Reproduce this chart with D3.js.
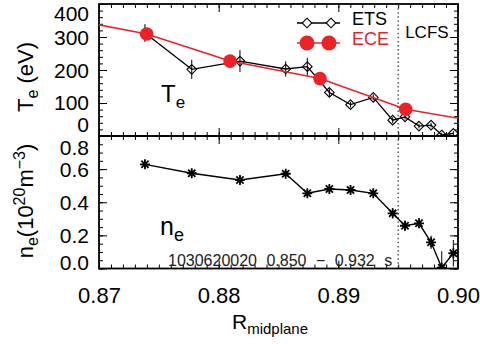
<!DOCTYPE html>
<html><head><meta charset="utf-8">
<script src="https://cdn.jsdelivr.net/npm/d3@7"></script>
<style>body{margin:0;background:#fff} svg text{font-family:"Liberation Sans",Arial,sans-serif}</style>
</head><body><svg id="c" width="480" height="344"></svg>
<script>
// ---- data ----
const R_ets  = [0.87384,0.87775,0.88178,0.88560,0.88741,0.88925,0.89102,0.89292,0.89454,0.89557,0.89674,0.89775,0.89864,0.89961];
const Te_ets = [312,202,227,203,210,132,95,117,48,58,30,33,3,8];
const Te_err = [27,29,33,23,27,12,9,9,9,8,7,7,7,7];
const ne_ets = [0.629,0.575,0.534,0.572,0.454,0.480,0.474,0.454,0.333,0.258,0.273,0.158,0.005,0.092];
const ne_err = [0.02,0.02,0.02,0.02,0.02,0.02,0.02,0.02,0.03,0.03,0.03,0.04,0.10,0.08];
const R_ece  = [0.8667,0.87399,0.88095,0.88847,0.89563,0.9029];
const Te_ece = [360,309,227,174,81,36];
const R_lcfs = 0.895;
const xTicks  = [0.87,0.88,0.89,0.90];
const teTicks = [0,100,200,300,400];
const neTicks = [0.0,0.2,0.4,0.6,0.8];
const shotLabel = "1030620020 0.850 \u2212 0.932 s";

// ---- scales ----
const svg = d3.select("#c");
svg.append("rect").attr("width",480).attr("height",344).attr("fill","#fff");
const x  = d3.scaleLinear().domain([0.87,0.90]).range([99,458]);
const yT = d3.scaleLinear().domain([0,400]).range([136,4]);
const yN = d3.scaleLinear().domain([0,0.8]).range([268.5,136]);
const RED = "#ec2227";
const FONT = '"Liberation Sans",Arial,sans-serif';

const defs = svg.append("defs");
function clip(id, y){
  defs.append("clipPath").attr("id",id).append("rect")
    .attr("x",x.range()[0]).attr("y",y.range()[1])
    .attr("width",x.range()[1]-x.range()[0]).attr("height",y.range()[0]-y.range()[1]);
}
clip("cT",yT); clip("cN",yN);

const xMinor = d3.range(0,31).map(i=>+(0.87+i*0.001).toFixed(3));
function panel(y, major, minor){
  const g = svg.append("g");
  const [yb,yt] = y.range(), [xl,xr] = x.range();
  const add = (ax, tr) => g.append("g").attr("transform",tr).call(ax)
      .call(s=>{s.select(".domain").remove(); s.selectAll("line").attr("stroke","#000").attr("stroke-width",1);});
  add(d3.axisBottom(x).tickValues(xMinor).tickSize(-4).tickFormat(""), `translate(0,${yb})`);
  add(d3.axisBottom(x).tickValues(xTicks).tickSize(-8).tickFormat(""), `translate(0,${yb})`);
  add(d3.axisTop(x).tickValues(xMinor).tickSize(-4).tickFormat(""), `translate(0,${yt})`);
  add(d3.axisTop(x).tickValues(xTicks).tickSize(-8).tickFormat(""), `translate(0,${yt})`);
  add(d3.axisLeft(y).tickValues(minor).tickSize(-4).tickFormat(""), `translate(${xl},0)`);
  add(d3.axisLeft(y).tickValues(major).tickSize(-8).tickFormat(""), `translate(${xl},0)`);
  add(d3.axisRight(y).tickValues(minor).tickSize(-4).tickFormat(""), `translate(${xr},0)`);
  add(d3.axisRight(y).tickValues(major).tickSize(-8).tickFormat(""), `translate(${xr},0)`);
  g.append("rect").attr("x",xl).attr("y",yt).attr("width",xr-xl).attr("height",yb-yt)
    .attr("fill","none").attr("stroke","#000").attr("stroke-width",1.8);
}
panel(yT, teTicks, d3.range(0,401,20));
panel(yN, neTicks, d3.range(0,17).map(i=>+(i*0.05).toFixed(2)));

// y tick labels (dy = baseline offset from tick, px)
function yLabels(y, vals, fmt, off){
  svg.append("g").attr("transform",`translate(${x.range()[0]},0)`)
    .call(d3.axisLeft(y).tickValues(vals).tickSize(0).tickPadding(10).tickFormat(fmt))
    .call(s=>{s.select(".domain").remove();
      s.attr("font-family",FONT).attr("font-size",21);
      s.selectAll("text").attr("fill","#000").attr("dy",d=>off(d)+"px");});
}
yLabels(yT, teTicks, d3.format("d"), d=> d===400?16.5: d===100?6.1: d===0?-4.4:7.5);
yLabels(yN, neTicks, d3.format(".1f"), d=> d===0.8?18.1: d===0?1:7.5);

// x tick labels
svg.append("g").attr("transform",`translate(0,${yN.range()[0]})`)
  .call(d3.axisBottom(x).tickValues(xTicks).tickSize(0).tickPadding(19).tickFormat(d3.format(".2f")))
  .call(s=>{s.select(".domain").remove(); s.attr("font-family",FONT).attr("font-size",22); s.selectAll("text").attr("fill","#000");});

// LCFS line
svg.append("line").attr("x1",x(R_lcfs)).attr("x2",x(R_lcfs)).attr("y1",yT.range()[1]).attr("y2",yN.range()[0])
  .attr("stroke","#333").attr("stroke-width",1.2).attr("stroke-dasharray","1.5,2.6");
svg.append("text").attr("x",x(R_lcfs)+7).attr("y",38).attr("font-size",17).text("LCFS");

// --- Te panel ---
const gT = svg.append("g").attr("clip-path","url(#cT)");
const ets = R_ets.map((r,i)=>({r,t:Te_ets[i],e:Te_err[i],n:ne_ets[i],ne:ne_err[i]}));
gT.selectAll(".eb").data(ets).join("line")
  .attr("x1",d=>x(d.r)).attr("x2",d=>x(d.r)).attr("y1",d=>yT(d.t-d.e)).attr("y2",d=>yT(d.t+d.e))
  .attr("stroke","#000").attr("stroke-width",1);
gT.append("path").datum(ets).attr("fill","none").attr("stroke","#000").attr("stroke-width",1.3)
  .attr("d",d3.line().x(d=>x(d.r)).y(d=>yT(d.t)));
const diamond = "M0,-4.8L4.8,0L0,4.8L-4.8,0Z";
gT.selectAll(".dm").data(ets).join("path").attr("d",diamond)
  .attr("transform",d=>`translate(${x(d.r)},${yT(d.t)})`)
  .attr("fill","none").attr("stroke","#000").attr("stroke-width",1.1);
const ece = R_ece.map((r,i)=>({r,t:Te_ece[i]}));
gT.append("path").datum(ece).attr("fill","none").attr("stroke",RED).attr("stroke-width",1.6)
  .attr("d",d3.line().x(d=>x(d.r)).y(d=>yT(d.t)));
gT.selectAll(".ci").data(ece).join("circle").attr("cx",d=>x(d.r)).attr("cy",d=>yT(d.t)).attr("r",6.8).attr("fill",RED);

// legend
const lg = svg.append("g");
lg.append("line").attr("x1",297).attr("x2",340).attr("y1",23).attr("y2",23).attr("stroke","#000").attr("stroke-width",1.3);
[307,331].forEach(cx=>lg.append("path").attr("d",diamond).attr("transform",`translate(${cx},23)`).attr("fill","#fff").attr("stroke","#000").attr("stroke-width",1.1));
lg.append("text").attr("x",352).attr("y",25).attr("font-size",18).text("ETS");
lg.append("line").attr("x1",297).attr("x2",340).attr("y1",43).attr("y2",43).attr("stroke",RED).attr("stroke-width",1.6);
[307,329].forEach(cx=>lg.append("circle").attr("cx",cx).attr("cy",43).attr("r",7.5).attr("fill",RED));
lg.append("text").attr("x",352).attr("y",45).attr("font-size",18).attr("fill",RED).text("ECE");

// panel labels
const tl = svg.append("text").attr("x",161).attr("y",102).attr("font-size",24);
tl.append("tspan").text("T"); tl.append("tspan").attr("font-size",17).attr("dy",6).text("e");
const nl = svg.append("text").attr("x",160).attr("y",235).attr("font-size",25);
nl.append("tspan").text("n"); nl.append("tspan").attr("font-size",18).attr("dy",6).text("e");

// --- ne panel ---
const gN = svg.append("g").attr("clip-path","url(#cN)");
gN.selectAll(".eb").data(ets).join("line")
  .attr("x1",d=>x(d.r)).attr("x2",d=>x(d.r)).attr("y1",d=>yN(d.n-d.ne)).attr("y2",d=>yN(d.n+d.ne))
  .attr("stroke","#000").attr("stroke-width",1);
gN.append("path").datum(ets).attr("fill","none").attr("stroke","#000").attr("stroke-width",1.4)
  .attr("d",d3.line().x(d=>x(d.r)).y(d=>yN(d.n)));
const a=5, b=3.6;
const star = `M${-a},0H${a}M0,${-a}V${a}M${-b},${-b}L${b},${b}M${-b},${b}L${b},${-b}`;
gN.selectAll(".st").data(ets).join("path").attr("d",star)
  .attr("transform",d=>`translate(${x(d.r)},${yN(d.n)})`)
  .attr("stroke","#000").attr("stroke-width",1.8).attr("fill","none");

svg.append("text").attr("x",168).attr("y",266).attr("font-size",16).attr("fill","#222")
  .attr("word-spacing",5).text(shotLabel);

// axis titles
const yt1 = svg.append("text").attr("transform","translate(33,77) rotate(-90)").attr("text-anchor","middle").attr("font-size",22);
yt1.append("tspan").text("T"); yt1.append("tspan").attr("font-size",16).attr("dy",5).text("e");
yt1.append("tspan").attr("dy",-5).text(" (eV)");
const yt2 = svg.append("text").attr("transform","translate(33,201) rotate(-90)").attr("text-anchor","middle").attr("font-size",22);
yt2.append("tspan").text("n"); yt2.append("tspan").attr("font-size",16).attr("dy",5).text("e");
yt2.append("tspan").attr("dy",-5).text("(10");
yt2.append("tspan").attr("font-size",16).attr("dy",-8).text("20");
yt2.append("tspan").attr("dy",8).text("m");
yt2.append("tspan").attr("font-size",16).attr("dy",-8).text("\u22123");
yt2.append("tspan").attr("dy",8).text(")");

const xt = svg.append("text").attr("x",232).attr("y",329).attr("font-size",21);
xt.append("tspan").text("R"); xt.append("tspan").attr("font-size",15).attr("dy",5).text("midplane");
</script></body></html>
